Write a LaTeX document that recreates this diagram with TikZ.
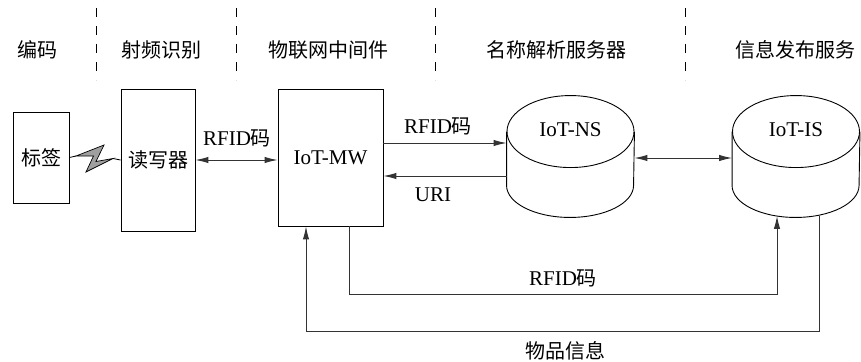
\documentclass[tikz,border=0pt]{standalone}
\usepackage{fontspec}
\setmainfont{Liberation Serif}
\newfontfamily\cjk{Noto Sans CJK SC}
\usetikzlibrary{arrows.meta,calc}
\begin{document}
\begin{tikzpicture}[x=1pt,y=1pt,line width=0.9pt,
  box/.style={draw,rectangle,inner sep=0pt,font=\fontsize{21}{24}\selectfont},
  txt/.style={inner sep=0pt,font=\fontsize{21}{24}\selectfont},
  ctxt/.style={inner sep=0pt,font=\fontsize{20}{24}\selectfont\cjk},
  conn/.style={draw=black!80,line width=1pt},
  arr/.style={-{Latex[length=13pt,width=6.5pt]}},
  darr/.style={{Latex[length=13pt,width=6.5pt]}-{Latex[length=13pt,width=6.5pt]}},
  sepline/.style={dash pattern=on 9pt off 9pt,line width=0.8pt},
  cylbox/.style={inner sep=0pt,minimum width=127pt,minimum height=121pt}]
\useasboundingbox (0,0) rectangle (861,-361);
% headers
\node[ctxt] (h1) at (37,-50) {编码};
\node[ctxt] (h2) at (161,-50) {射频识别};
\node[ctxt] (h3) at (328,-50) {物联网中间件};
\node[ctxt] (h4) at (556,-50) {名称解析服务器};
\node[ctxt] (h5) at (795,-50) {信息发布服务};
\foreach \x in {96,236,435,685}
  \draw[sepline] (\x,-8) -- (\x,-80);
% boxes
\node[box,ctxt,minimum width=56pt,minimum height=91pt] (tag) at (41,-157.5) {标签};
\node[box,ctxt,minimum width=74pt,minimum height=142pt] (reader) at (158,-160) {读写器};
\node[box,minimum width=105pt,minimum height=137pt] (mw) at (330.5,-157.5) {IoT-MW};
% cylinders
\node[cylbox] (ns) at (570.5,-156.5) {};
\node[cylbox] (is) at (796,-156.5) {};
\foreach \c in {ns,is}{
  \draw (\c.north) ++(0,-36) ellipse[x radius=63.5,y radius=36];
  \draw ([yshift=-36pt]\c.north west) -- ([yshift=32pt]\c.south west)
    arc[start angle=180,end angle=360,x radius=63.5,y radius=32]
    -- ([yshift=-36pt]\c.north east);
}
\node[txt] (nsl) at ([yshift=-34pt]ns.north) {IoT-NS};
\node[txt] (isl) at ([yshift=-34pt]is.north) {IoT-IS};
% lightning
\coordinate (b1) at (76,-156);
\coordinate (b4) at (113,-158.5);
\draw[line width=0.8pt] (tag.east) -- (b1);
\filldraw[fill=gray!75,line width=0.7pt] (b1) -- (104,-145) -- (96,-161.5) -- (b4) -- (86,-172) -- (93.5,-156) -- cycle;
\draw[line width=0.8pt] (b4) -- (reader.west);
% connectors
\draw[conn,darr] (reader.east) -- (reader.east -| mw.west);
\node[txt] (l1) at (237,-138) {RFID{\cjk\fontsize{20}{24}\selectfont 码}};
\draw[conn,arr] ([yshift=14.5pt]mw.east) -- ([yshift=14.5pt]mw.east -| ns.west);
\node[txt] (l2) at (438,-126) {RFID{\cjk\fontsize{20}{24}\selectfont 码}};
\draw[conn,arr] ([yshift=-18.5pt]mw.east -| ns.west) -- ([yshift=-18.5pt]mw.east);
\node[txt] (l3) at (433,-195) {URI};
\draw[conn,darr] ([yshift=-1.5pt]ns.east) -- ([yshift=-1.5pt]ns.east -| is.west);
\draw[conn,arr] ([xshift=18.5pt]mw.south) -- ++(0,-68) -| ([xshift=-19pt,yshift=1.5pt]is.south);
\node[txt] (l4) at (563,-278) {RFID{\cjk\fontsize{20}{24}\selectfont 码}};
\draw[conn,arr] ([xshift=23pt,yshift=1.5pt]is.south) -- ++(0,-115.5) -| ([xshift=-24.5pt]mw.south);
\node[ctxt] (l5) at (565,-351) {物品信息};
\end{tikzpicture}
\end{document}
